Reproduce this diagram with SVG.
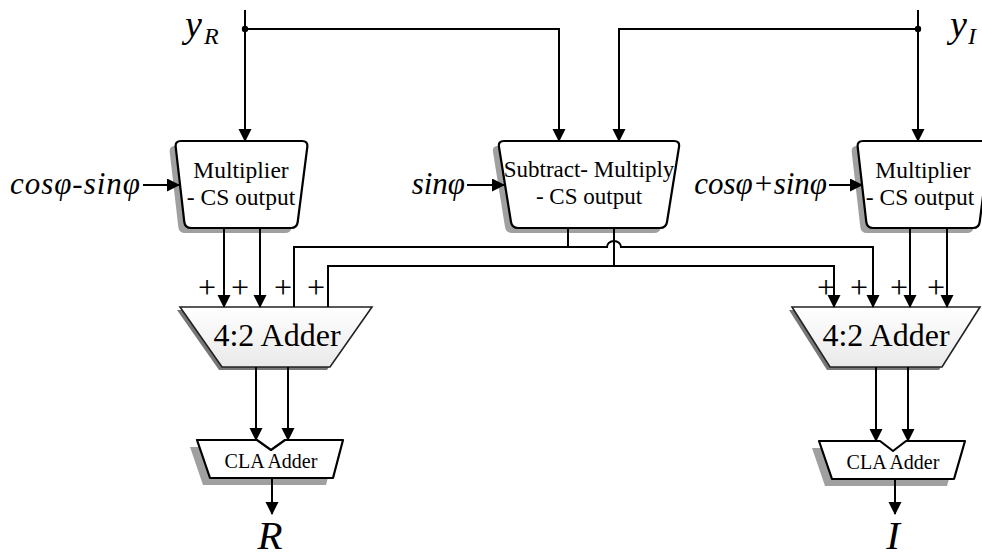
<svg xmlns="http://www.w3.org/2000/svg" width="982" height="557" viewBox="0 0 982 557">
  <defs>
    <marker id="arrow" markerUnits="userSpaceOnUse" markerWidth="16" markerHeight="14" refX="12" refY="6.5" orient="auto">
      <path d="M0,0 L13,6.5 L0,13 Z" fill="#000"/>
    </marker>
    <linearGradient id="adderFill" x1="0" y1="0" x2="0" y2="1">
      <stop offset="0" stop-color="#ffffff"/>
      <stop offset="1" stop-color="#e9e9e9"/>
    </linearGradient>
    <style>
      .wire { fill: none; stroke: #000; stroke-width: 2; }
      .arr { marker-end: url(#arrow); }
      .box { fill: #fff; stroke: #000; stroke-width: 2.2; stroke-linejoin: round; }
      .adder { fill: url(#adderFill); stroke: #222; stroke-width: 1.6; stroke-linejoin: miter; }
      .shadow { fill: #a0a0a0; stroke: none; }
      .shadow2 { fill: #777; stroke: none; }
      .lbl { font-family: "Liberation Serif", "Times New Roman", serif; fill: #000; text-anchor: middle; }
      .math { font-family: "Liberation Serif", "Times New Roman", serif; font-style: italic; fill: #000; }
      .plus { font-family: "Liberation Serif", "Times New Roman", serif; fill: #000; text-anchor: middle; }
    </style>
  </defs>
  <rect width="982" height="557" fill="#fff"/>

  <!-- input labels -->
  <g id="in-yR">
    <text class="math" x="185" y="37" font-size="38">y</text>
    <text class="math" x="204" y="44" font-size="24">R</text>
  </g>
  <g id="in-yI">
    <text class="math" x="950" y="37" font-size="38">y</text>
    <text class="math" x="968" y="44" font-size="24">I</text>
  </g>
  <g id="in-cos-minus-sin">
    <text class="math" x="141" y="194" font-size="31" letter-spacing="1" text-anchor="end">cosφ-sinφ</text>
  </g>
  <g id="in-sin">
    <text class="math" x="465" y="194" font-size="31" text-anchor="end">sinφ</text>
  </g>
  <g id="in-cos-plus-sin">
    <text class="math" x="827" y="194" font-size="31" text-anchor="end">cosφ+sinφ</text>
  </g>

  <!-- multiplier (cos-sin) -->
  <g id="mult-left">
    <path class="shadow" transform="translate(-6,5)" d="M181,141 H302 Q308,141 307.3,147 L297.7,222 Q297,228 291,228 H191 Q185,228 184.3,222 L175.7,147 Q175,141 181,141 Z"/>
    <path class="box" d="M181,141 H302 Q308,141 307.3,147 L297.7,222 Q297,228 291,228 H191 Q185,228 184.3,222 L175.7,147 Q175,141 181,141 Z"/>
    <text class="lbl" x="241" y="178" font-size="23.5">Multiplier</text>
    <text class="lbl" x="241" y="205" font-size="23.5">- CS output</text>
  </g>

  <!-- subtract-multiply -->
  <g id="sub-mult">
    <path class="shadow" transform="translate(-6,5)" d="M504,141 H674 Q680,141 679,147 L667,222 Q666,228 660,228 H518 Q512,228 511,222 L499,147 Q498,141 504,141 Z"/>
    <path class="box" d="M504,141 H674 Q680,141 679,147 L667,222 Q666,228 660,228 H518 Q512,228 511,222 L499,147 Q498,141 504,141 Z"/>
    <text class="lbl" x="589" y="177" font-size="23">Subtract- Multiply</text>
    <text class="lbl" x="589" y="204" font-size="23">- CS output</text>
  </g>

  <!-- multiplier (cos+sin) -->
  <g id="mult-right">
    <path class="shadow" transform="translate(-6,5)" d="M863,141 H984 Q990,141 989.3,147 L979.7,222 Q979,228 973,228 H873 Q867,228 866.3,222 L857.7,147 Q857,141 863,141 Z"/>
    <path class="box" d="M863,141 H984 Q990,141 989.3,147 L979.7,222 Q979,228 973,228 H873 Q867,228 866.3,222 L857.7,147 Q857,141 863,141 Z"/>
    <text class="lbl" x="923" y="178" font-size="23.5">Multiplier</text>
    <text class="lbl" x="920" y="205" font-size="23.5">- CS output</text>
  </g>

  <!-- 4:2 adders -->
  <g id="adder42-left">
    <polygon class="shadow2" transform="translate(-3,3)" points="180,307 372,307 330,367 222,367"/>
    <polygon class="adder" points="180,307 372,307 330,367 222,367"/>
    <text class="lbl" x="277" y="346" font-size="32">4:2 Adder</text>
  </g>
  <g id="adder42-right">
    <polygon class="shadow2" transform="translate(-3,3)" points="792,307 980,307 942,367 830,367"/>
    <polygon class="adder" points="792,307 980,307 942,367 830,367"/>
    <text class="lbl" x="886" y="346" font-size="32">4:2 Adder</text>
  </g>

  <!-- CLA adders -->
  <g id="cla-left">
    <path class="shadow" transform="translate(-7,7)" d="M197,440 H257 L271,450 L285,440 H343 L333,478 H210 Z"/>
    <path class="box" stroke-linejoin="miter" d="M197,440 H257 L271,450 L285,440 H343 L333,478 H210 Z"/>
    <text class="lbl" x="271" y="468" font-size="20">CLA Adder</text>
  </g>
  <g id="cla-right">
    <path class="shadow" transform="translate(-7,7)" d="M819,441 H880 L893,451 L906,441 H965 L954,479 H832 Z"/>
    <path class="box" stroke-linejoin="miter" d="M819,441 H880 L893,451 L906,441 H965 L954,479 H832 Z"/>
    <text class="lbl" x="893" y="469" font-size="20">CLA Adder</text>
  </g>

  <!-- outputs -->
  <g id="out-R">
    <text class="math" x="270" y="549" font-size="41" text-anchor="middle">R</text>
  </g>
  <g id="out-I">
    <text class="math" x="893" y="549" font-size="41" text-anchor="middle">I</text>
  </g>

  <!-- sign marks on adder inputs -->
  <g id="signs" font-size="32">
    <text class="plus" x="207" y="298">+</text>
    <text class="plus" x="240" y="298">+</text>
    <text class="plus" x="283" y="298">+</text>
    <text class="plus" x="316" y="298">+</text>
    <text class="plus" x="826" y="298">+</text>
    <text class="plus" x="859" y="298">+</text>
    <text class="plus" x="899" y="298">+</text>
    <text class="plus" x="936" y="298">+</text>
  </g>

  <!-- connectors -->
  <g id="connectors">
    <path class="wire arr" d="M245,10 V141"/>
    <path class="wire arr" d="M245,29 H559 V141"/>
    <path class="wire arr" d="M918,10 V141"/>
    <path class="wire arr" d="M918,29 H619 V141"/>
    <circle cx="245" cy="29" r="3.2" fill="#000"/>
    <circle cx="918" cy="29" r="3.2" fill="#000"/>

    <path class="wire arr" d="M143,185 H179"/>
    <path class="wire arr" d="M467,185 H504"/>
    <path class="wire arr" d="M829,185 H862"/>

    <path class="wire arr" d="M224,228 V307"/>
    <path class="wire arr" d="M260,228 V307"/>
    <path class="wire arr" d="M910,228 V307"/>
    <path class="wire arr" d="M947,228 V307"/>

    <path class="wire" d="M568,228 V247"/>
    <path class="wire arr" d="M294,307 V247 H607 A7,6 0 0 1 621,247 H873 V307"/>
    <path class="wire" d="M614,228 V266"/>
    <path class="wire arr" d="M328,307 V266 H834 V307"/>

    <path class="wire arr" d="M256,367 V440"/>
    <path class="wire arr" d="M288,367 V440"/>
    <path class="wire arr" d="M876,367 V441"/>
    <path class="wire arr" d="M908,367 V441"/>

    <path class="wire arr" d="M272,478 V514"/>
    <path class="wire arr" d="M895,479 V514"/>
  </g>
</svg>
